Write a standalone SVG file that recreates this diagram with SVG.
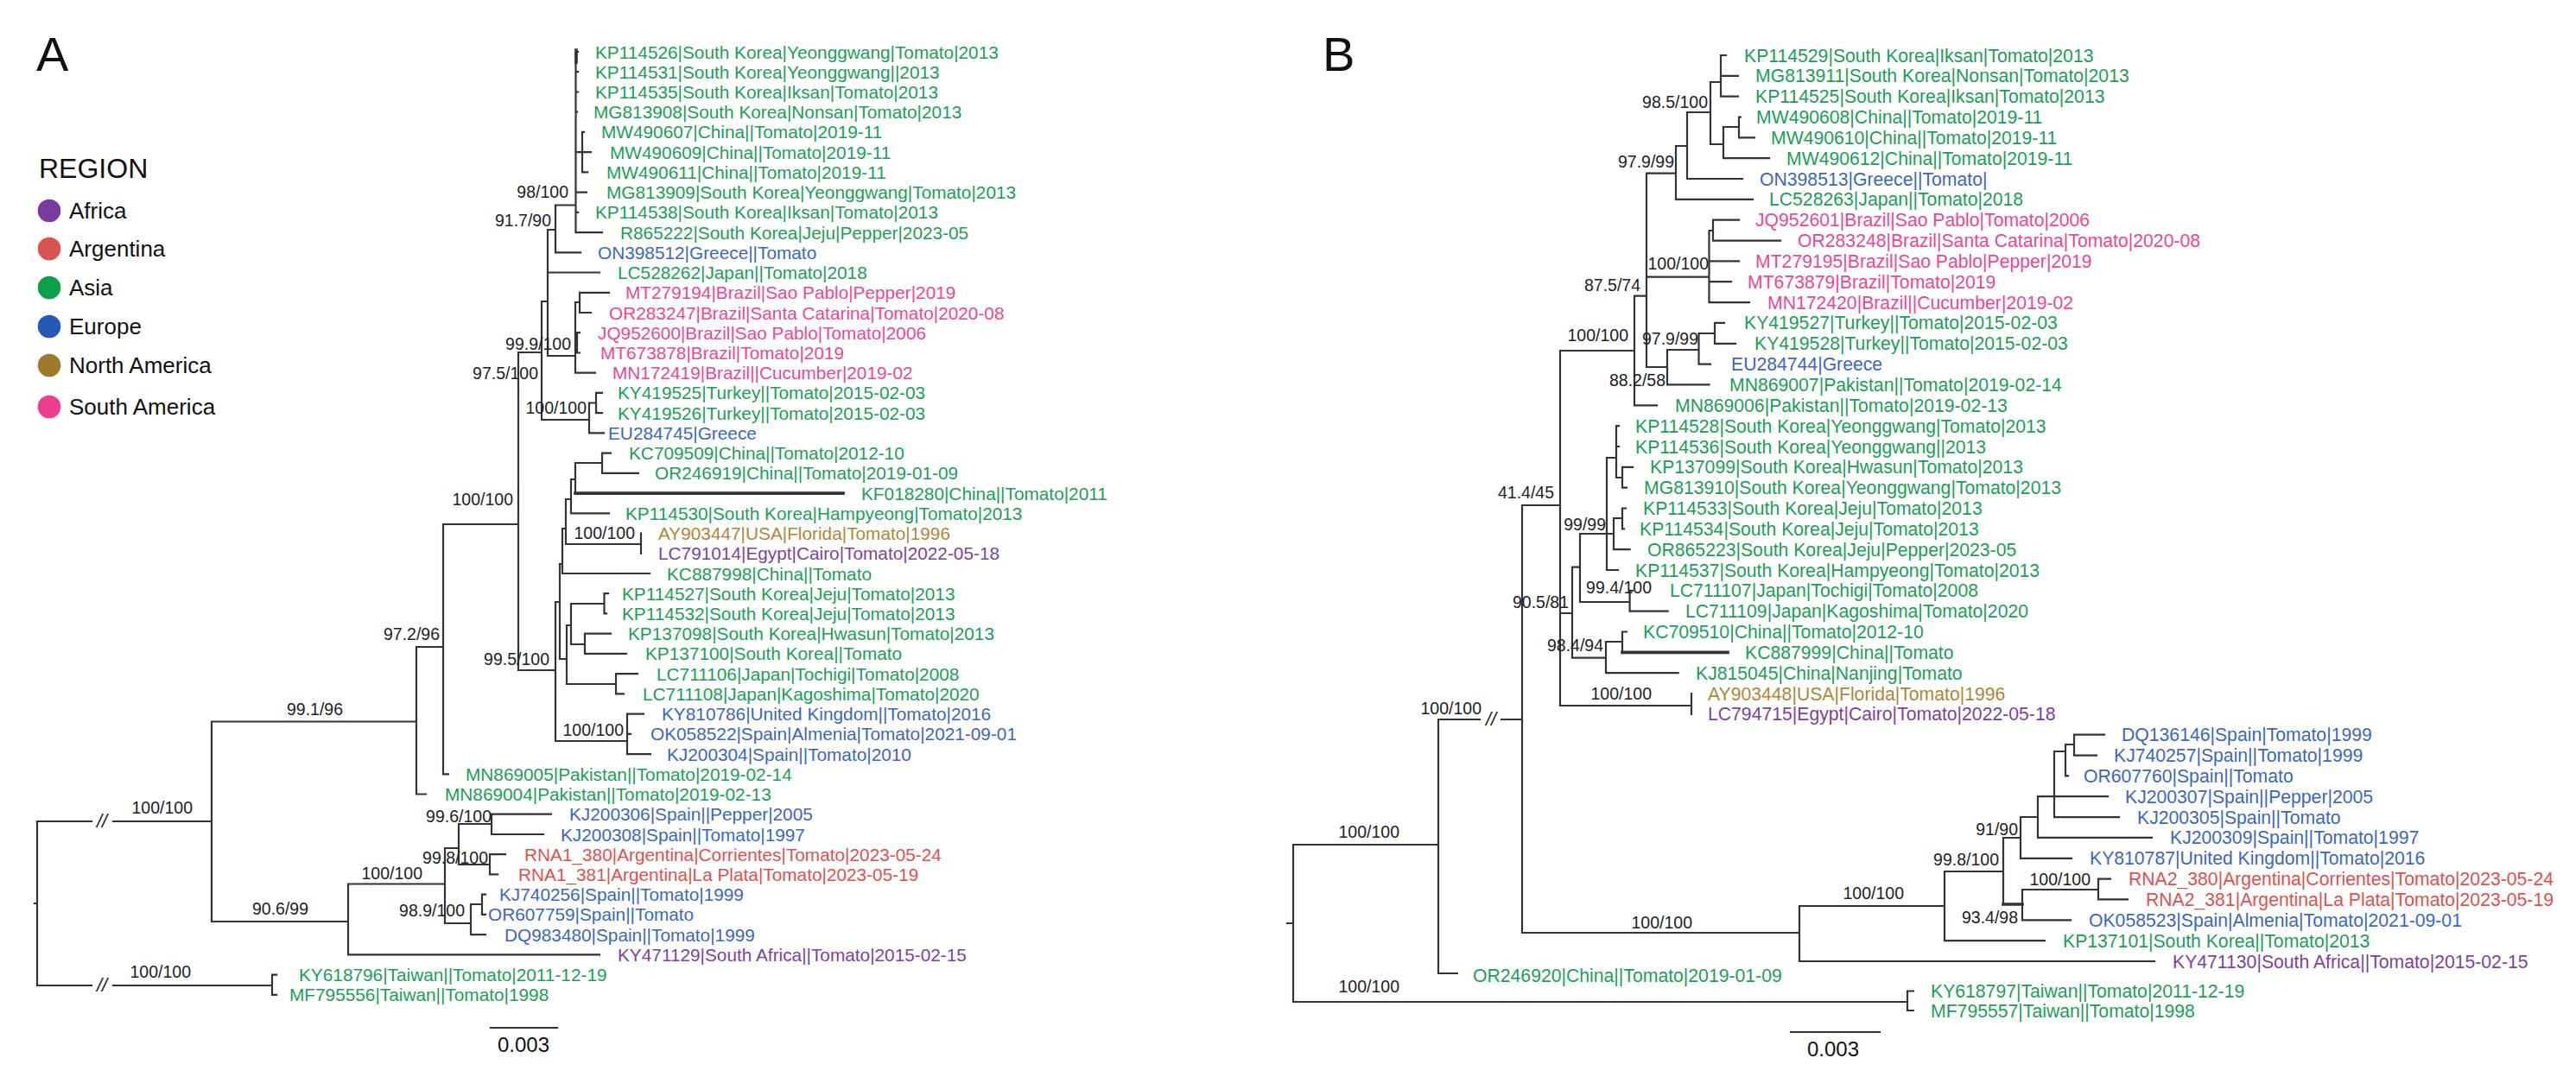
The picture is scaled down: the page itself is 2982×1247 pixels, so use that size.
<svg xmlns="http://www.w3.org/2000/svg" width="2982" height="1247" viewBox="0 0 2982 1247">
<style>
.br{fill:none;stroke:#333;stroke-width:2.2;stroke-linecap:square}
.thk{fill:none;stroke:#333;stroke-width:3.6;stroke-linecap:square}
.t{font-family:"Liberation Sans",Arial,sans-serif;font-size:20.8px}
.tb{font-family:"Liberation Sans",Arial,sans-serif;font-size:21.2px}
.s{font-family:"Liberation Sans",Arial,sans-serif;font-size:19.5px;fill:#222;text-anchor:end}
.brk{font-family:"Liberation Sans",Arial,sans-serif;font-size:22px;font-style:italic;fill:#222;text-anchor:middle}
.as{fill:#1B9E57}.eu{fill:#3B66C2}.sa{fill:#EE4690}.ar{fill:#E0504C}.na{fill:#AE8638}.af{fill:#7D3FA3}
.lg{font-family:"Liberation Sans",Arial,sans-serif;font-size:26px;fill:#111}
.big{font-family:"Liberation Sans",Arial,sans-serif;font-size:56px;fill:#111}
.sc{font-family:"Liberation Sans",Arial,sans-serif;font-size:24px;fill:#111;text-anchor:middle}
</style>
<rect width="2982" height="1247" fill="#fff"/>
<text class="big" x="42" y="82">A</text>
<text class="big" x="1531" y="82">B</text>
<g id="legend">
<text x="45" y="206" font-family="Liberation Sans,Arial,sans-serif" font-size="32" fill="#111">REGION</text>
<circle cx="57" cy="244" r="13.3" fill="#7B3A9E"/><text class="lg" x="80" y="253">Africa</text>
<circle cx="57" cy="288" r="13.3" fill="#D9534F"/><text class="lg" x="80" y="297">Argentina</text>
<circle cx="57" cy="333" r="13.3" fill="#0E9F4B"/><text class="lg" x="80" y="342">Asia</text>
<circle cx="57" cy="378" r="13.3" fill="#2559B8"/><text class="lg" x="80" y="387">Europe</text>
<circle cx="57" cy="423" r="13.3" fill="#A07A2C"/><text class="lg" x="80" y="432">North America</text>
<circle cx="57" cy="471" r="13.3" fill="#EC3D8F"/><text class="lg" x="80" y="480">South America</text>
</g>
<g id="connectors">
<path class="br" d="M40 1046H43M43 951V1141M43 951H106M131 951H245M43 1141H106M131 1141H315M315 1128.6V1151.8M315 1128.6H320M315 1151.8H320
M245 835.5V1067M245 835.5H482M245 1067H403
M482 749V919.5M482 749H513M482 919.5H493
M513 607V896.3M513 607H600M513 896.3H519
M600 408V776M600 408H627M600 776H643
M627 349V486M627 349H634M627 486H682
M634 266V412M634 266H643M634 315.5H694M634 412H666
M643 237.5V292.3M643 237.5H666.5M643 292.3H672
M666.5 60V269.1M666.5 60H669M666.5 83.2H669M666.5 106.5H669M666.5 129.7H668M666.5 176.2H674M666.5 222.6H679M666.5 245.8H669M666.5 269.1H697
M674 152.9V199.4M674 152.9H676M674 176.2H684M674 199.4H680
M666 350V431.7M666 350H671M666 397H668M666 431.7H689
M671 338.8V362M671 338.8H705M671 362H684
M668 385.2V408.5M668 385.2H671M668 408.5H671
M682 466.5V501.4M682 466.5H690M682 501.4H699
M690 454.9V478.1M690 454.9H697M690 478.1H697
M643 697V858M643 697H648M643 858H726
M648 653V763M648 653H651M648 763H656
M651 612V664M651 612H655M651 664H752
M655 578V630M655 578H661M655 630H742
M661 555V594.3M661 555H666M661 594.3H705
M666 536V571.1M666 536H697
M697 524.6V547.8M697 524.6H707M697 547.8H739
M742 617.5V640.8
M656 724V792M656 724H661M656 792H713
M661 699V746M661 699H699.5M661 746H677
M699.5 687.2V710.4M699.5 687.2H704M699.5 710.4H702
M677 733.7V756.9M677 733.7H707M677 756.9H725
M713 780.1V803.4M713 780.1H738M713 803.4H722
M726 826.6V873.1M726 826.6H745M726 849.8H730M726 873.1H753
M403 1023.5V1105.3M403 1023.5H515M403 1105.3H694
M515 982V1069M515 982H531M515 1069H545
M531 954V1001M531 954H569M531 1001H567
M569 942.7V966M569 942.7H638M569 966H629
M567 989.2V1012.4M567 989.2H585M567 1012.4H576
M545 1047V1082.1M545 1047H558M545 1082.1H562
M558 1035.6V1058.9M558 1035.6H562M558 1058.9H562
M568 1190H645"/>
<path class="thk" d="M666 571.1H976M1878 755.4H2000M2319 1047H2341M667 58V72"/>
<path class="br" d="M1490 1069H1497M1497 978V1160M1497 978H1665M1497 1160H2208
M1665 833V1127M1665 833H1713M1738 833H1762M1665 1127H1687
M2208 1147.5V1170M2208 1147.5H2215M2208 1170H2215
M1762 585V1080M1762 585H1806M1762 1080H2083
M1806 406V817M1806 406H1892M1806 710H1820M1806 817H1958
M1958 803V826.9
M1892 342.7V469.3M1892 342.7H1906M1892 469.3H1918
M1906 200.7V425M1906 200.7H1940M1906 320.7H1978.5M1906 425H1930
M1940 169V230.9M1940 169H1953M1940 230.9H2029
M1953 130V207M1953 130H1980M1953 207H2017
M1980 95V167M1980 95H1992M1980 167H1995
M1992 64V111.7M1992 64H1998M1992 87.8H2012M1992 111.7H2012
M1995 147V183.2M1995 147H2013M1995 183.2H2048
M2013 135.5V159.4M2013 135.5H2015M2013 159.4H2031
M1978.5 267V350.1M1978.5 267H1983M1978.5 302.4H2013M1978.5 326.2H2004M1978.5 350.1H2025
M1983 254.7V278.6M1983 254.7H2013M1983 278.6H2061
M1930 405V445.4M1930 405H1966.5M1930 445.4H1978.5
M1966.5 386V421.6M1966.5 386H1985M1966.5 421.6H1980
M1985 373.9V397.8M1985 373.9H1996M1985 397.8H2009
M1820 656.7V761.7M1820 656.7H1829M1820 761.7H1859
M1829 618V697M1829 618H1868M1829 697H1886.6
M1860 530V660M1860 530H1871M1860 660H1873
M1871 493.1V553M1871 493.1H1874M1871 517H1874M1871 553H1878
M1878 540.8V564.6M1878 540.8H1890M1878 564.6H1883
M1868 600V636.2M1868 600H1878M1868 636.2H1886.6
M1878 588.5V612.3M1878 588.5H1882M1878 612.3H1880
M1886.6 683.8V707.7M1886.6 683.8H1890M1886.6 707.7H1930.6
M1859 743V779.2M1859 743H1878M1859 779.2H1942.6
M1878 731.5V755.4M1878 731.5H1883
M2083 1049V1113M2083 1049H2251M2083 1113H2494
M2251 1009V1089.1M2251 1009H2319M2251 1089.1H2367
M2319 970V1047M2319 970H2339
M2339 946V993.8M2339 946H2359M2339 993.8H2398
M2359 922.2V969.9M2359 922.2H2378M2359 969.9H2491
M2378 870V946.1M2378 870H2391M2378 922.2H2440M2378 946.1H2453
M2391 862V898.4M2391 862H2401M2391 898.4H2394
M2401 850.7V874.6M2401 850.7H2436M2401 874.6H2427
M2341 1030V1065.3M2341 1030H2429M2341 1065.3H2397
M2429 1017.6V1041.4M2429 1017.6H2443M2429 1041.4H2463
M2073 1195H2176"/>
<text class="brk" x="118" y="958">//</text>
<text class="brk" x="118" y="1148">//</text>
<text class="brk" x="1726" y="840">//</text>
</g>
<g id="supportA">
<text class="s" x="658" y="229">98/100</text>
<text class="s" x="638" y="262">91.7/90</text>
<text class="s" x="661" y="405">99.9/100</text>
<text class="s" x="623" y="439">97.5/100</text>
<text class="s" x="679" y="479">100/100</text>
<text class="s" x="594" y="585">100/100</text>
<text class="s" x="735" y="624">100/100</text>
<text class="s" x="509" y="741">97.2/96</text>
<text class="s" x="636" y="770">99.5/100</text>
<text class="s" x="397" y="828">99.1/96</text>
<text class="s" x="722" y="852">100/100</text>
<text class="s" x="223" y="942">100/100</text>
<text class="s" x="569" y="952">99.6/100</text>
<text class="s" x="565" y="1000">99.8/100</text>
<text class="s" x="489" y="1018">100/100</text>
<text class="s" x="357" y="1059">90.6/99</text>
<text class="s" x="538" y="1061">98.9/100</text>
<text class="s" x="221" y="1132">100/100</text>
<text class="sc" x="606" y="1218">0.003</text>
</g>
<g id="supportB">
<text class="s" x="1977" y="125">98.5/100</text>
<text class="s" x="1938" y="194">97.9/99</text>
<text class="s" x="1978" y="312">100/100</text>
<text class="s" x="1899" y="337">87.5/74</text>
<text class="s" x="1885" y="395">100/100</text>
<text class="s" x="1966" y="399">97.9/99</text>
<text class="s" x="1928" y="447">88.2/58</text>
<text class="s" x="1799" y="577">41.4/45</text>
<text class="s" x="1859" y="614">99/99</text>
<text class="s" x="1912" y="687">99.4/100</text>
<text class="s" x="1816" y="704">90.5/81</text>
<text class="s" x="1856" y="754">98.4/94</text>
<text class="s" x="1912" y="810">100/100</text>
<text class="s" x="1715" y="827">100/100</text>
<text class="s" x="1620" y="970">100/100</text>
<text class="s" x="2336" y="967">91/90</text>
<text class="s" x="2314" y="1002">99.8/100</text>
<text class="s" x="2204" y="1041">100/100</text>
<text class="s" x="2420" y="1025">100/100</text>
<text class="s" x="2336" y="1069">93.4/98</text>
<text class="s" x="1959" y="1075">100/100</text>
<text class="s" x="1620" y="1149">100/100</text>
<text class="sc" x="2122" y="1223">0.003</text>
</g>
<g id="tipsA" class="t">
<g id="A01"><text class="as" x="689" y="67.5">KP114526|South Korea|Yeonggwang|Tomato|2013</text></g>
<g id="A02"><text class="as" x="689" y="90.7">KP114531|South Korea|Yeonggwang||2013</text></g>
<g id="A03"><text class="as" x="689" y="114">KP114535|South Korea|Iksan|Tomato|2013</text></g>
<g id="A04"><text class="as" x="687" y="137.2">MG813908|South Korea|Nonsan|Tomato|2013</text></g>
<g id="A05"><text class="as" x="696" y="160.4">MW490607|China||Tomato|2019-11</text></g>
<g id="A06"><text class="as" x="706" y="183.7">MW490609|China||Tomato|2019-11</text></g>
<g id="A07"><text class="as" x="702" y="206.9">MW490611|China||Tomato|2019-11</text></g>
<g id="A08"><text class="as" x="702" y="230.1">MG813909|South Korea|Yeonggwang|Tomato|2013</text></g>
<g id="A09"><text class="as" x="689" y="253.3">KP114538|South Korea|Iksan|Tomato|2013</text></g>
<g id="A10"><text class="as" x="718" y="276.6">R865222|South Korea|Jeju|Pepper|2023-05</text></g>
<g id="A11"><text class="eu" x="692" y="299.8">ON398512|Greece||Tomato</text></g>
<g id="A12"><text class="as" x="715" y="323">LC528262|Japan||Tomato|2018</text></g>
<g id="A13"><text class="sa" x="724" y="346.3">MT279194|Brazil|Sao Pablo|Pepper|2019</text></g>
<g id="A14"><text class="sa" x="705" y="369.5">OR283247|Brazil|Santa Catarina|Tomato|2020-08</text></g>
<g id="A15"><text class="sa" x="692" y="392.7">JQ952600|Brazil|Sao Pablo|Tomato|2006</text></g>
<g id="A16"><text class="sa" x="695" y="416">MT673878|Brazil|Tomato|2019</text></g>
<g id="A17"><text class="sa" x="709" y="439.2">MN172419|Brazil||Cucumber|2019-02</text></g>
<g id="A18"><text class="as" x="715" y="462.4">KY419525|Turkey||Tomato|2015-02-03</text></g>
<g id="A19"><text class="as" x="715" y="485.6">KY419526|Turkey||Tomato|2015-02-03</text></g>
<g id="A20"><text class="eu" x="704" y="508.9">EU284745|Greece</text></g>
<g id="A21"><text class="as" x="728" y="532.1">KC709509|China||Tomato|2012-10</text></g>
<g id="A22"><text class="as" x="758" y="555.3">OR246919|China||Tomato|2019-01-09</text></g>
<g id="A23"><text class="as" x="997" y="578.6">KF018280|China||Tomato|2011</text></g>
<g id="A24"><text class="as" x="724" y="601.8">KP114530|South Korea|Hampyeong|Tomato|2013</text></g>
<g id="A25"><text class="na" x="762" y="625">AY903447|USA|Florida|Tomato|1996</text></g>
<g id="A26"><text class="af" x="762" y="648.3">LC791014|Egypt|Cairo|Tomato|2022-05-18</text></g>
<g id="A27"><text class="as" x="772" y="671.5">KC887998|China||Tomato</text></g>
<g id="A28"><text class="as" x="720" y="694.7">KP114527|South Korea|Jeju|Tomato|2013</text></g>
<g id="A29"><text class="as" x="720" y="717.9">KP114532|South Korea|Jeju|Tomato|2013</text></g>
<g id="A30"><text class="as" x="727" y="741.2">KP137098|South Korea|Hwasun|Tomato|2013</text></g>
<g id="A31"><text class="as" x="747" y="764.4">KP137100|South Korea||Tomato</text></g>
<g id="A32"><text class="as" x="760" y="787.6">LC711106|Japan|Tochigi|Tomato|2008</text></g>
<g id="A33"><text class="as" x="744" y="810.9">LC711108|Japan|Kagoshima|Tomato|2020</text></g>
<g id="A34"><text class="eu" x="766" y="834.1">KY810786|United Kingdom||Tomato|2016</text></g>
<g id="A35"><text class="eu" x="753" y="857.3">OK058522|Spain|Almenia|Tomato|2021-09-01</text></g>
<g id="A36"><text class="eu" x="772" y="880.6">KJ200304|Spain||Tomato|2010</text></g>
<g id="A37"><text class="as" x="539" y="903.8">MN869005|Pakistan||Tomato|2019-02-14</text></g>
<g id="A38"><text class="as" x="515" y="927">MN869004|Pakistan||Tomato|2019-02-13</text></g>
<g id="A39"><text class="eu" x="659" y="950.2">KJ200306|Spain||Pepper|2005</text></g>
<g id="A40"><text class="eu" x="649" y="973.5">KJ200308|Spain||Tomato|1997</text></g>
<g id="A41"><text class="ar" x="607" y="996.7">RNA1_380|Argentina|Corrientes|Tomato|2023-05-24</text></g>
<g id="A42"><text class="ar" x="600" y="1019.9">RNA1_381|Argentina|La Plata|Tomato|2023-05-19</text></g>
<g id="A43"><text class="eu" x="578" y="1043.1">KJ740256|Spain||Tomato|1999</text></g>
<g id="A44"><text class="eu" x="565" y="1066.4">OR607759|Spain||Tomato</text></g>
<g id="A45"><text class="eu" x="584" y="1089.6">DQ983480|Spain||Tomato|1999</text></g>
<g id="A46"><text class="af" x="715" y="1112.8">KY471129|South Africa||Tomato|2015-02-15</text></g>
<g id="A47"><text class="as" x="346" y="1136.1">KY618796|Taiwan||Tomato|2011-12-19</text></g>
<g id="A48"><text class="as" x="335" y="1159.3">MF795556|Taiwan||Tomato|1998</text></g>
</g>
<g id="tipsB" class="tb">
<g id="B01"><text class="as" x="2019" y="71.5">KP114529|South Korea|Iksan|Tomato|2013</text></g>
<g id="B02"><text class="as" x="2032" y="95.3">MG813911|South Korea|Nonsan|Tomato|2013</text></g>
<g id="B03"><text class="as" x="2032" y="119.2">KP114525|South Korea|Iksan|Tomato|2013</text></g>
<g id="B04"><text class="as" x="2033" y="143">MW490608|China||Tomato|2019-11</text></g>
<g id="B05"><text class="as" x="2050" y="166.9">MW490610|China||Tomato|2019-11</text></g>
<g id="B06"><text class="as" x="2068" y="190.7">MW490612|China||Tomato|2019-11</text></g>
<g id="B07"><text class="eu" x="2037" y="214.5">ON398513|Greece||Tomato|</text></g>
<g id="B08"><text class="as" x="2048" y="238.4">LC528263|Japan||Tomato|2018</text></g>
<g id="B09"><text class="sa" x="2032" y="262.2">JQ952601|Brazil|Sao Pablo|Tomato|2006</text></g>
<g id="B10"><text class="sa" x="2081" y="286.1">OR283248|Brazil|Santa Catarina|Tomato|2020-08</text></g>
<g id="B11"><text class="sa" x="2032" y="309.9">MT279195|Brazil|Sao Pablo|Pepper|2019</text></g>
<g id="B12"><text class="sa" x="2023" y="333.7">MT673879|Brazil|Tomato|2019</text></g>
<g id="B13"><text class="sa" x="2046" y="357.6">MN172420|Brazil||Cucumber|2019-02</text></g>
<g id="B14"><text class="as" x="2019" y="381.4">KY419527|Turkey||Tomato|2015-02-03</text></g>
<g id="B15"><text class="as" x="2031" y="405.3">KY419528|Turkey||Tomato|2015-02-03</text></g>
<g id="B16"><text class="eu" x="2004" y="429.1">EU284744|Greece</text></g>
<g id="B17"><text class="as" x="2002" y="452.9">MN869007|Pakistan||Tomato|2019-02-14</text></g>
<g id="B18"><text class="as" x="1939" y="476.8">MN869006|Pakistan||Tomato|2019-02-13</text></g>
<g id="B19"><text class="as" x="1893" y="500.6">KP114528|South Korea|Yeonggwang|Tomato|2013</text></g>
<g id="B20"><text class="as" x="1893" y="524.5">KP114536|South Korea|Yeonggwang||2013</text></g>
<g id="B21"><text class="as" x="1910" y="548.3">KP137099|South Korea|Hwasun|Tomato|2013</text></g>
<g id="B22"><text class="as" x="1903" y="572.1">MG813910|South Korea|Yeonggwang|Tomato|2013</text></g>
<g id="B23"><text class="as" x="1902" y="596">KP114533|South Korea|Jeju|Tomato|2013</text></g>
<g id="B24"><text class="as" x="1898" y="619.8">KP114534|South Korea|Jeju|Tomato|2013</text></g>
<g id="B25"><text class="as" x="1907" y="643.7">OR865223|South Korea|Jeju|Pepper|2023-05</text></g>
<g id="B26"><text class="as" x="1893" y="667.5">KP114537|South Korea|Hampyeong|Tomato|2013</text></g>
<g id="B27"><text class="as" x="1933" y="691.3">LC711107|Japan|Tochigi|Tomato|2008</text></g>
<g id="B28"><text class="as" x="1951" y="715.2">LC711109|Japan|Kagoshima|Tomato|2020</text></g>
<g id="B29"><text class="as" x="1902" y="739">KC709510|China||Tomato|2012-10</text></g>
<g id="B30"><text class="as" x="2020" y="762.9">KC887999|China||Tomato</text></g>
<g id="B31"><text class="as" x="1963" y="786.7">KJ815045|China|Nanjing|Tomato</text></g>
<g id="B32"><text class="na" x="1977" y="810.5">AY903448|USA|Florida|Tomato|1996</text></g>
<g id="B33"><text class="af" x="1977" y="834.4">LC794715|Egypt|Cairo|Tomato|2022-05-18</text></g>
<g id="B34"><text class="eu" x="2456" y="858.2">DQ136146|Spain|Tomato|1999</text></g>
<g id="B35"><text class="eu" x="2447" y="882.1">KJ740257|Spain||Tomato|1999</text></g>
<g id="B36"><text class="eu" x="2412" y="905.9">OR607760|Spain||Tomato</text></g>
<g id="B37"><text class="eu" x="2460" y="929.7">KJ200307|Spain||Pepper|2005</text></g>
<g id="B38"><text class="eu" x="2474" y="953.6">KJ200305|Spain||Tomato</text></g>
<g id="B39"><text class="eu" x="2512" y="977.4">KJ200309|Spain||Tomato|1997</text></g>
<g id="B40"><text class="eu" x="2419" y="1001.3">KY810787|United Kingdom||Tomato|2016</text></g>
<g id="B41"><text class="ar" x="2464" y="1025.1">RNA2_380|Argentina|Corrientes|Tomato|2023-05-24</text></g>
<g id="B42"><text class="ar" x="2484" y="1048.9">RNA2_381|Argentina|La Plata|Tomato|2023-05-19</text></g>
<g id="B43"><text class="eu" x="2418" y="1072.8">OK058523|Spain|Almenia|Tomato|2021-09-01</text></g>
<g id="B44"><text class="as" x="2388" y="1096.6">KP137101|South Korea||Tomato|2013</text></g>
<g id="B45"><text class="af" x="2515" y="1120.5">KY471130|South Africa||Tomato|2015-02-15</text></g>
<g id="B46"><text class="as" x="1705" y="1137">OR246920|China||Tomato|2019-01-09</text></g>
<g id="B47"><text class="as" x="2235" y="1155">KY618797|Taiwan||Tomato|2011-12-19</text></g>
<g id="B48"><text class="as" x="2235" y="1177.5">MF795557|Taiwan||Tomato|1998</text></g>
</g>
</svg>
